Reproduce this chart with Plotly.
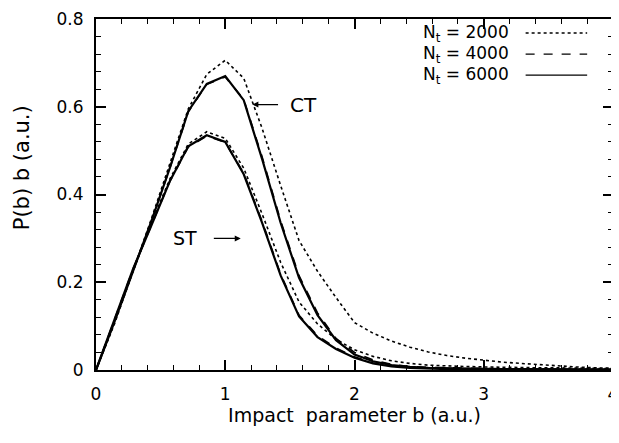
import plotly.graph_objects as go

b = [0, 0.143, 0.286, 0.429, 0.571, 0.714, 0.857, 1.0, 1.143, 1.286, 1.429, 1.571,
     1.714, 1.857, 2.0, 2.143, 2.286, 2.429, 2.571, 2.714, 2.857, 3.0, 3.143, 3.286,
     3.429, 3.571, 3.714, 3.857, 4.0]

ct_2000 = [0, 0.105, 0.225, 0.345, 0.47, 0.595, 0.674, 0.706, 0.665, 0.55, 0.42, 0.295,
           0.225, 0.165, 0.108, 0.084, 0.066, 0.052, 0.041, 0.033, 0.027, 0.022, 0.018,
           0.015, 0.012, 0.009, 0.007, 0.005, 0.004]
ct_4000 = [0, 0.11, 0.225, 0.34, 0.46, 0.588, 0.651, 0.668, 0.617, 0.485, 0.34, 0.215,
           0.13, 0.072, 0.04, 0.023, 0.013, 0.008, 0.006, 0.005, 0.004, 0.003, 0.003,
           0.002, 0.002, 0.002, 0.001, 0.001, 0.001]
ct_6000 = [0, 0.11, 0.225, 0.34, 0.46, 0.59, 0.652, 0.670, 0.615, 0.48, 0.335, 0.21,
           0.125, 0.068, 0.035, 0.02, 0.011, 0.007, 0.005, 0.004, 0.003, 0.003, 0.002,
           0.002, 0.002, 0.001, 0.001, 0.001, 0.001]

st_2000 = [0, 0.11, 0.225, 0.335, 0.435, 0.515, 0.543, 0.528, 0.46, 0.355, 0.245, 0.155,
           0.105, 0.07, 0.046, 0.031, 0.021, 0.015, 0.011, 0.009, 0.008, 0.007, 0.006,
           0.006, 0.005, 0.005, 0.004, 0.004, 0.003]
st_4000 = [0, 0.115, 0.23, 0.33, 0.43, 0.508, 0.533, 0.519, 0.448, 0.338, 0.218, 0.125,
           0.078, 0.05, 0.03, 0.016, 0.009, 0.006, 0.004, 0.003, 0.002, 0.002, 0.002,
           0.001, 0.001, 0.001, 0.001, 0.001, 0.001]
st_6000 = [0, 0.115, 0.23, 0.33, 0.43, 0.51, 0.535, 0.52, 0.446, 0.335, 0.215, 0.122,
           0.075, 0.048, 0.028, 0.015, 0.008, 0.005, 0.003, 0.002, 0.002, 0.002, 0.001,
           0.001, 0.001, 0.001, 0.001, 0.001, 0.001]

legend_labels = ["N<sub>t</sub> = 2000", "N<sub>t</sub> = 4000", "N<sub>t</sub> = 6000"]
dashes = ["dot", "dash", "solid"]
widths = [1.6, 1.6, 2.2]

FONT = "DejaVu Sans, Liberation Sans, Arial, sans-serif"

fig = go.Figure()
for series, d, w in zip([ct_2000, ct_4000, ct_6000], dashes, widths):
    fig.add_trace(go.Scatter(x=b, y=series, mode="lines",
                             line=dict(color="black", width=w, dash=d), showlegend=False))
for series, d, w in zip([st_2000, st_4000, st_6000], dashes, widths):
    fig.add_trace(go.Scatter(x=b, y=series, mode="lines",
                             line=dict(color="black", width=w, dash=d), showlegend=False))

# custom legend: text then line sample
leg_y = [0.960, 0.900, 0.840]
for lab, d, w, yy in zip(legend_labels, dashes, widths, leg_y):
    fig.add_annotation(xref="paper", yref="paper", x=0.802, y=yy, text=lab,
                       showarrow=False, xanchor="right", yanchor="middle",
                       font=dict(family=FONT, size=17, color="black"))
    fig.add_shape(type="line", xref="paper", yref="paper", x0=0.831, x1=0.950,
                  y0=yy, y1=yy,
                  line=dict(color="black", width=1.4 if d != "solid" else 1.2, dash=d))

# CT / ST labels with arrows
fig.add_annotation(x=1.21, y=0.605, ax=1.42, ay=0.605, xref="x", yref="y",
                   axref="x", ayref="y", text="", showarrow=True, arrowhead=2,
                   arrowsize=1, arrowwidth=1.2, arrowcolor="black")
fig.add_annotation(x=1.605, y=0.605, text="CT", showarrow=False,
                   font=dict(family=FONT, size=20, color="black"))
fig.add_annotation(x=1.12, y=0.30, ax=0.90, ay=0.30, xref="x", yref="y",
                   axref="x", ayref="y", text="", showarrow=True, arrowhead=2,
                   arrowsize=1, arrowwidth=1.2, arrowcolor="black")
fig.add_annotation(x=0.69, y=0.30, text="ST", showarrow=False,
                   font=dict(family=FONT, size=19, color="black"))

# y-axis title (sits a little above the axis middle, as in the reference)
fig.add_annotation(xref="paper", yref="paper", x=-0.143, y=0.575, text="P(b) b (a.u.)",
                   textangle=-90, showarrow=False, xanchor="center", yanchor="middle",
                   font=dict(family=FONT, size=21, color="black"))

axis_common = dict(showgrid=False, zeroline=False, showline=True, linecolor="black",
                   linewidth=2, mirror="ticks", ticks="inside", ticklen=10, tickwidth=1.5,
                   tickcolor="black", ticklabeloverflow="allow",
                   tickfont=dict(family=FONT, size=17, color="black"))

fig.update_xaxes(range=[0, 4], dtick=1, tick0=0, ticklabelstandoff=8,
                 minor=dict(dtick=0.2, ticklen=5, tickwidth=1.2, ticks="inside", tickcolor="black"),
                 title=dict(text="Impact  parameter b (a.u.)", standoff=5,
                            font=dict(family=FONT, size=19, color="black")),
                 **axis_common)
fig.update_yaxes(range=[0, 0.8], dtick=0.2, tick0=0, tickformat=".1~f", ticklabelstandoff=7,
                 minor=dict(dtick=0.04, ticklen=5, tickwidth=1.2, ticks="inside", tickcolor="black"),
                 **axis_common)

# page body adds an 8px offset; size the figure so the plot area lands where the reference has it
fig.update_layout(width=611, height=427, paper_bgcolor="white", plot_bgcolor="white",
                  margin=dict(l=88, r=6, t=11, b=65, autoexpand=False), showlegend=False)

fig.write_html("out.html")
